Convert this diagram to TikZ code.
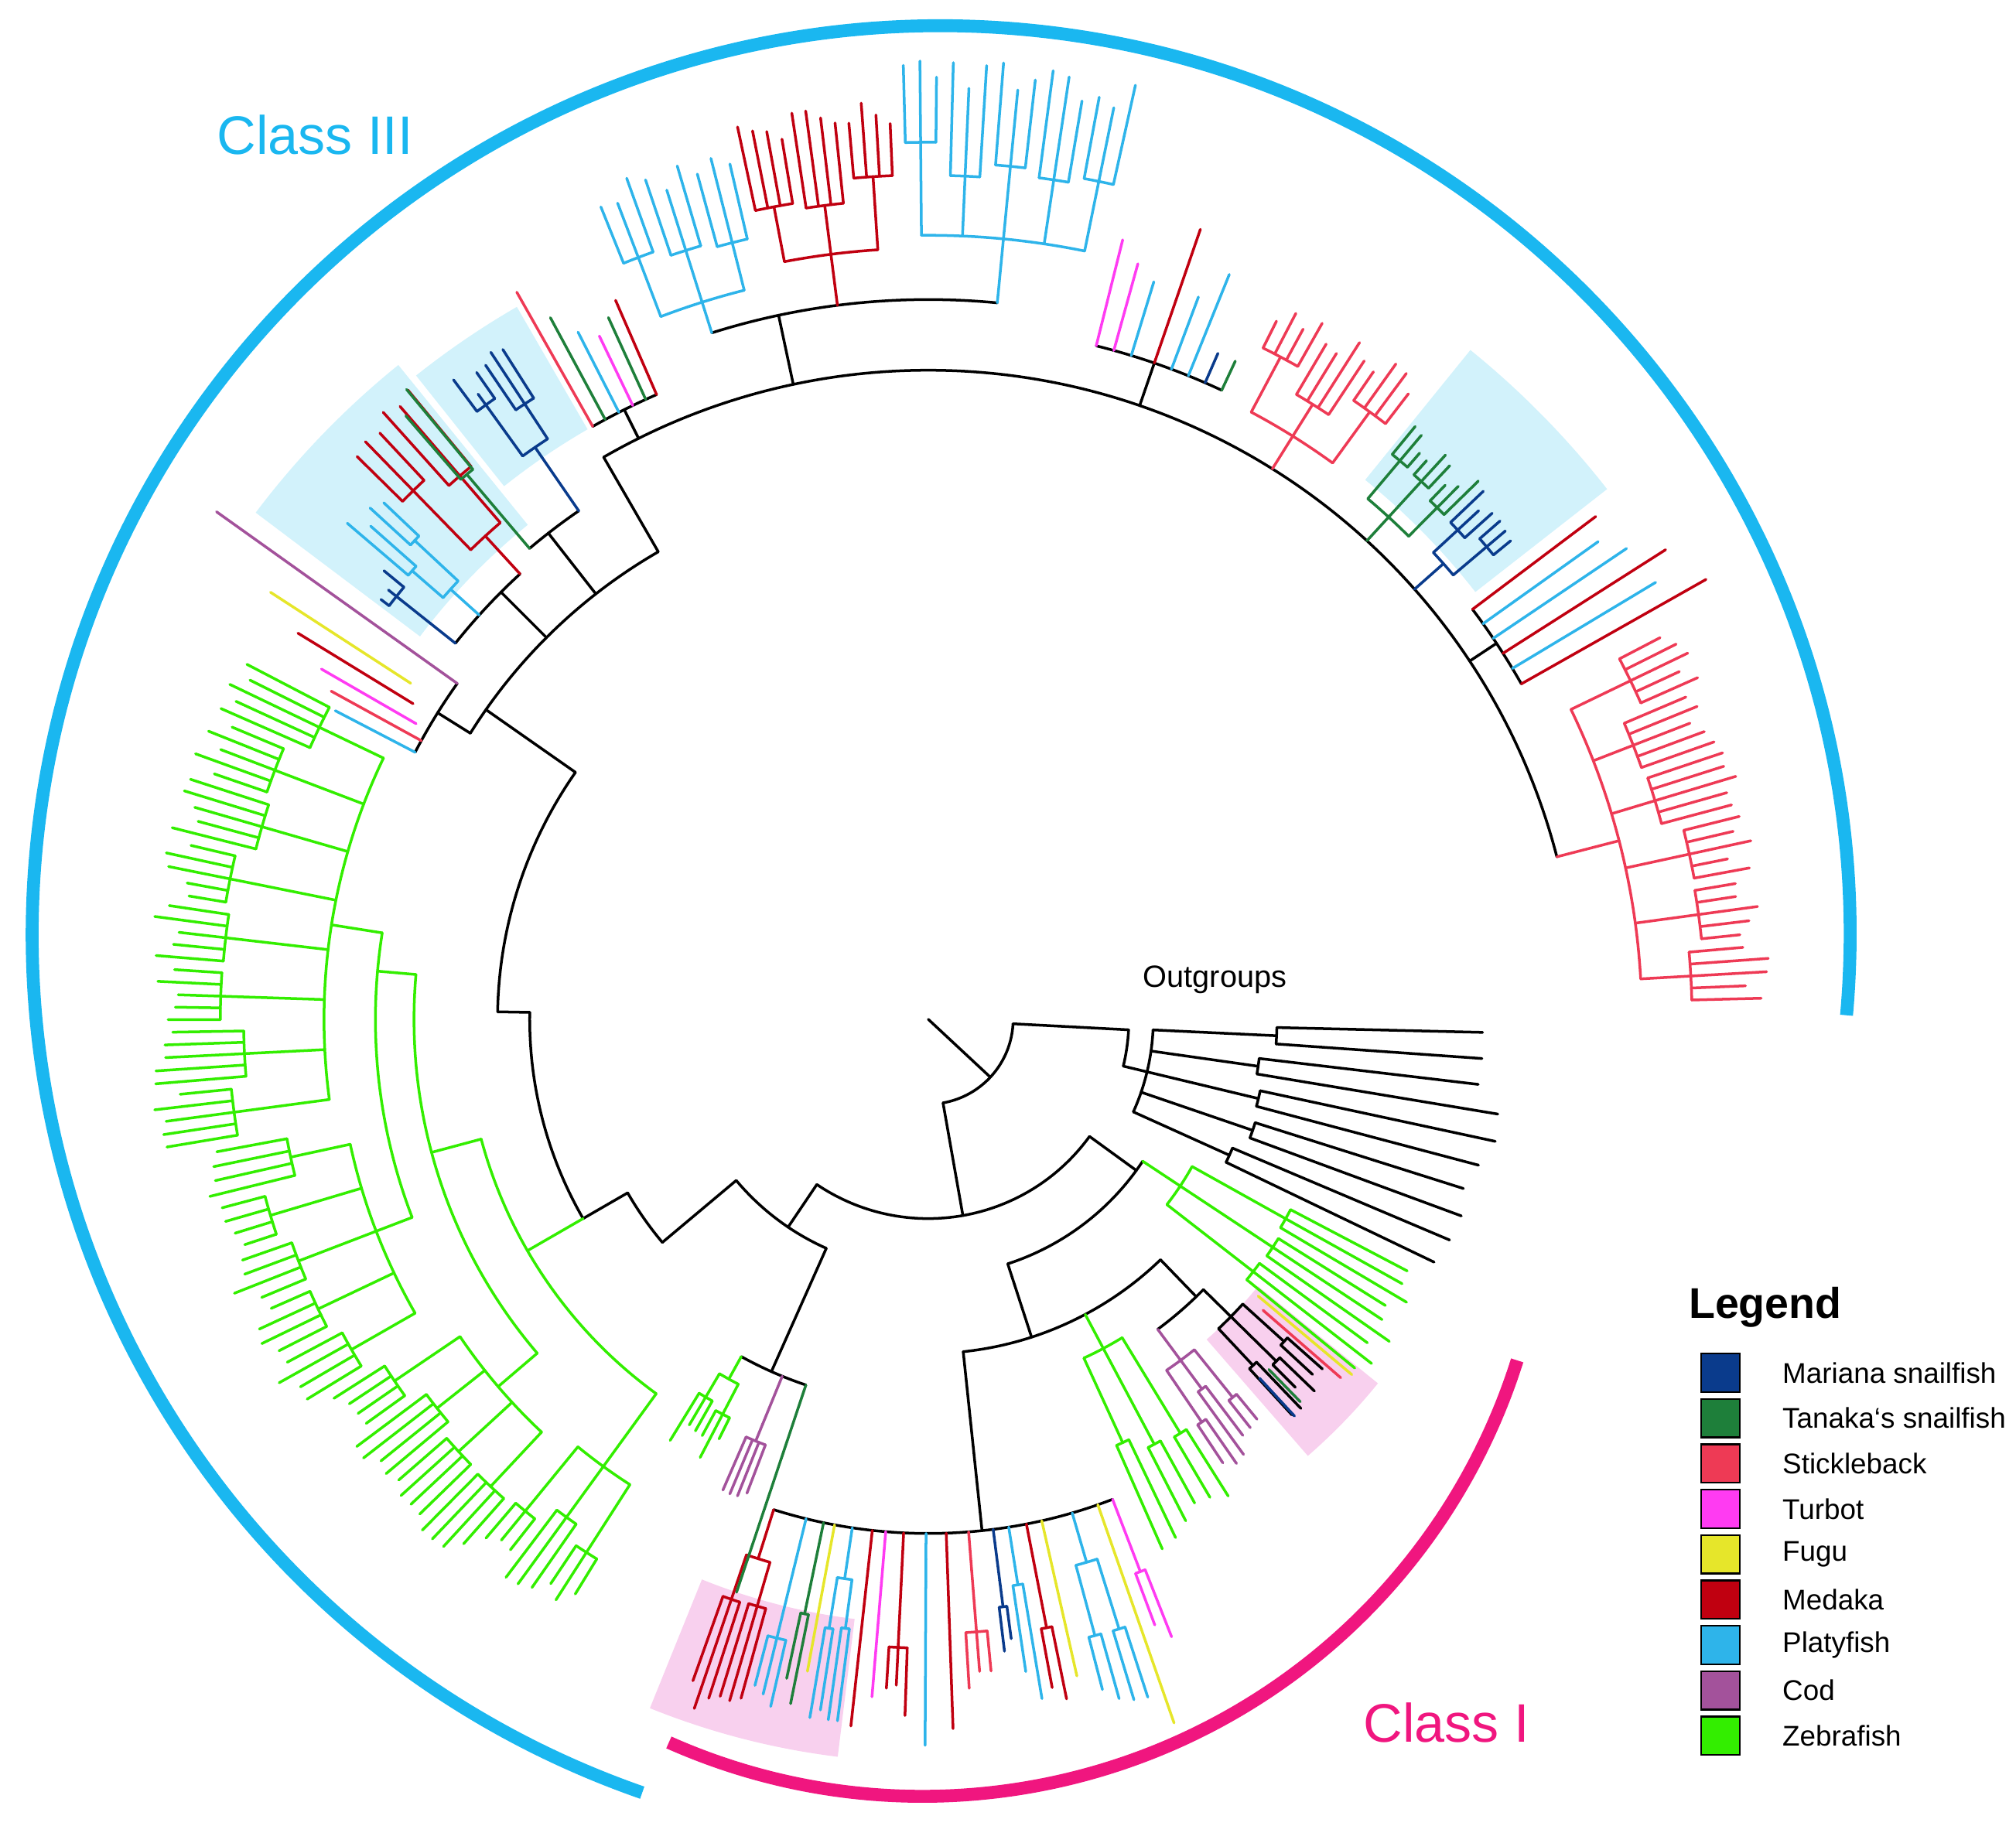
\documentclass[tikz,border=0pt]{standalone}
\usepackage{fontspec}
\setmainfont{Liberation Sans}
\definecolor{navy}{HTML}{0A3B8C}
\definecolor{tanaka}{HTML}{1E7F3A}
\definecolor{stk}{HTML}{EE3A55}
\definecolor{turbot}{HTML}{FF3BF2}
\definecolor{fugu}{HTML}{E6E62A}
\definecolor{medaka}{HTML}{C00010}
\definecolor{platy}{HTML}{2EB4EA}
\definecolor{cod}{HTML}{A3529B}
\definecolor{zebra}{HTML}{33EE00}
\definecolor{cIII}{HTML}{1AB7F0}
\definecolor{cI}{HTML}{F0167F}
\definecolor{shc}{HTML}{D2F2FB}
\definecolor{shp}{HTML}{F8D0EE}
\tikzset{br/.style={line width=0.6pt,line cap=round,line join=round}}
\newcommand\rad[4][black]{\draw[br,#1] (#2:#3) -- (#2:#4);}
\newcommand\arcc[4][black]{\draw[br,#1] (#3:#2) arc[start angle=#3,end angle=#4,radius=#2];}
\newcommand\tipl[4]{\draw[br,#1] (#2:#3) -- (#2:#4);}
\newcommand\sect[5]{\fill[#1] (#2:#4) arc[start angle=#2,end angle=#3,radius=#4] -- (#3:#5) arc[start angle=#3,end angle=#2,radius=#5] -- cycle;}
\newcommand\grp[9]{%
 \pgfmathsetmacro\gW{(#3-#2)/#7}%
 \pgfmathsetmacro\gF{#2+\gW/2}%
 \pgfmathsetmacro\gL{#3-\gW/2}%
 \pgfmathsetmacro\gM{(#2+#3)/2}%
 \draw[br,#1] (\gM:#4) -- (\gM:#5);%
 \draw[br,#1] (\gF:#5) arc[start angle=\gF,end angle=\gL,radius=#5];%
 \pgfmathtruncatemacro\gK{#7-1}%
 \foreach \gi in {0,...,\gK}{%
  \pgfmathsetmacro\gS{#2+\gi*\gW}%
  \pgfmathsetmacro\gC{\gS+\gW/2}%
  \pgfmathsetmacro\gR{#6+rnd*30-15}%
  \draw[br,#1] (\gC:#5) -- (\gC:\gR);%
  \pgfmathtruncatemacro\gN{max(1,round(\gW/#9))}%
  \ifnum\gN>1
   \pgfmathsetmacro\gT{\gW/\gN}%
   \pgfmathsetmacro\gA{\gS+\gT/2}%
   \pgfmathsetmacro\gB{\gS+\gW-\gT/2}%
   \draw[br,#1] (\gA:\gR) arc[start angle=\gA,end angle=\gB,radius=\gR];%
   \pgfmathtruncatemacro\gNN{\gN-1}%
   \foreach \gj in {0,...,\gNN}{%
    \pgfmathsetmacro\gQ{\gA+\gj*\gT}%
    \pgfmathsetmacro\gE{max(\gR+8,#8+rnd*24-12)}%
    \draw[br,#1] (\gQ:\gR) -- (\gQ:\gE);}%
  \else
   \pgfmathsetmacro\gE{max(\gR+8,#8+rnd*24-12)}%
   \draw[br,#1] (\gC:\gR) -- (\gC:\gE);%
  \fi}}
\begin{document}
\begin{tikzpicture}[x=0.01cm,y=-0.01cm]
\pgfmathsetseed{7}
\useasboundingbox (0,0) rectangle (1568,1420);
\begin{scope}[shift={(722,793)}]
% shades
\sect{shc}{217}{231}{495}{655}
\sect{shc}{231.5}{240}{530}{640}
\sect{shc}{309}{322}{540}{670}
\sect{shp}{39}{49}{330}{450}
\sect{shp}{97}{112}{470}{578}
% root
\rad{43}{0}{66} \arcc{66}{3}{80} \rad{80}{66}{155} \arcc{155}{36}{124}
% outgroups
\rad{3}{66}{156} \arcc{156}{3}{13.5}
\grp{black}{0}{27}{156}{175}{260}{5}{440}{2.2}
% Class I
\rad{36}{155}{200} \arcc{200}{33.5}{72}
\grp{zebra}{27}{40}{200}{235}{330}{3}{430}{1.5}
\rad{72}{200}{260} \arcc{260}{46}{84}
\rad{46}{260}{300} \arcc{300}{44.5}{53.5}
\grp{black}{41}{48}{300}{330}{365}{3}{410}{1.2}
\tipl{fugu}{40}{335}{430} \tipl{stk}{41}{345}{425}
\tipl{tanaka}{45.8}{380}{415} \tipl{navy}{47.3}{380}{420}
\grp{cod}{50}{57}{300}{330}{365}{3}{410}{1.0}
\grp{zebra}{57}{67}{260}{290}{370}{3}{440}{1.4}
\rad{84}{260}{400} \arcc{400}{69}{107.5}
\grp{turbot}{68}{70}{400}{440}{470}{1}{505}{1}
\grp{fugu}{70}{71.5}{400}{420}{440}{1}{570}{2}
\grp{platy}{71.5}{76}{400}{440}{490}{2}{550}{1.1}
\grp{fugu}{76.5}{78}{400}{430}{460}{1}{520}{2}
\grp{medaka}{78}{80}{400}{430}{470}{1}{530}{1}
\grp{platy}{80}{82}{400}{420}{450}{1}{525}{1}
\grp{navy}{82}{83.5}{400}{440}{470}{1}{490}{1}
\grp{stk}{84}{87}{400}{430}{470}{1}{520}{1}
\grp{medaka}{87}{89}{400}{430}{460}{1}{545}{2}
\grp{platy}{89}{91.5}{400}{420}{450}{1}{555}{2.5}
\grp{medaka}{91.5}{94}{400}{440}{480}{1}{530}{0.9}
\grp{turbot}{94}{95.5}{400}{440}{470}{1}{535}{2}
\grp{medaka}{95.5}{97}{400}{430}{460}{1}{550}{2}
\grp{platy}{97}{100}{400}{440}{490}{2}{545}{1}
\grp{fugu}{100}{101}{400}{460}{480}{1}{525}{2}
\grp{tanaka}{101}{102.5}{400}{450}{480}{1}{535}{1}
\grp{platy}{102.5}{105}{400}{440}{490}{1}{545}{1}
\grp{medaka}{105}{110}{400}{440}{490}{2}{555}{1}
% small green/cod clade
\rad{124}{155}{195} \arcc{195}{114}{140}
\rad{114}{195}{300} \arcc{300}{108.5}{119}
\grp{zebra}{116}{122}{300}{320}{345}{2}{375}{1.2}
\grp{cod}{110.5}{114}{300}{340}{360}{1}{400}{1}
\tipl{tanaka}{108.5}{300}{470}
% left backbone
\rad{140}{195}{270} \arcc{270}{140}{150} \rad{150}{270}{310}
\arcc{310}{150}{181} \rad{181}{310}{335} \arcc{335}{181}{215}
% zebrafish
\rad[zebra]{150}{310}{360} \arcc[zebra]{360}{126}{165}
\grp{zebra}{121}{131}{360}{430}{490}{3}{535}{1.2}
\rad[zebra]{165}{360}{400} \arcc[zebra]{400}{139.5}{185}
\grp{zebra}{131}{148}{400}{440}{500}{4}{550}{1.1}
\rad[zebra]{185}{400}{430} \arcc[zebra]{430}{159}{189}
\grp{zebra}{148}{170}{430}{460}{520}{5}{570}{1.0}
\grp{zebra}{170}{208}{430}{470}{540}{8}{595}{1.0}
% Class III
\rad{215}{335}{420} \arcc{420}{212}{240}
\rad{212}{420}{450} \arcc{450}{207.5}{215.5}
\tipl{platy}{207.5}{450}{520} \tipl{stk}{208.8}{450}{530}
\tipl{turbot}{210}{460}{545} \tipl{medaka}{211.5}{470}{575}
\tipl{fugu}{213}{480}{610} \tipl{cod}{215.5}{450}{680}
\rad{225}{420}{470} \arcc{470}{218.5}{227.5}
\grp{navy}{217}{220}{470}{495}{515}{1}{545}{1}
\grp{platy}{220}{224}{470}{500}{540}{2}{585}{1}
\grp{medaka}{224}{231}{470}{510}{570}{2}{630}{1.2}
\rad{232}{420}{480} \arcc{480}{229.75}{235.5}
\grp{tanaka}{228.5}{231}{480}{510}{560}{1}{630}{1.2}
\grp{navy}{233}{238}{480}{540}{575}{2}{610}{1}
\rad{240}{420}{505} \arcc{505}{240}{345.5}
\rad{243.5}{505}{530} \arcc{530}{240.5}{246.5}
\tipl{stk}{240.5}{530}{650} \tipl{tanaka}{241.7}{530}{620}
\tipl{platy}{243}{530}{600} \tipl{turbot}{244.3}{530}{590}
\tipl{tanaka}{245.5}{530}{600} \tipl{medaka}{246.5}{530}{610}
\rad{258}{505}{560} \arcc{560}{252.5}{275.5}
\grp{platy}{247.5}{257.5}{560}{585}{630}{3}{685}{1}
\grp{medaka}{257.5}{268}{560}{600}{650}{3}{705}{0.9}
\grp{platy}{268}{283}{560}{610}{670}{5}{735}{0.9}
\rad{289}{505}{540} \arcc{540}{284}{295}
\tipl{turbot}{284}{540}{625} \tipl{turbot}{285.5}{540}{610}
\tipl{platy}{287}{540}{600} \tipl{medaka}{289}{540}{650}
\tipl{platy}{290.5}{540}{600} \tipl{platy}{292}{540}{625}
\tipl{navy}{293.5}{540}{565} \tipl{tanaka}{295}{540}{565}
\grp{stk}{296}{308}{505}{535}{575}{3}{615}{0.9}
\grp{tanaka}{309}{316}{505}{530}{560}{3}{590}{0.9}
\grp{navy}{316}{321}{505}{535}{560}{2}{585}{0.9}
\rad{326.5}{505}{530} \arcc{530}{323}{330.5}
\tipl{medaka}{323}{530}{650} \tipl{platy}{324.5}{530}{640}
\tipl{platy}{326}{530}{655} \tipl{medaka}{327.5}{530}{680}
\tipl{platy}{329}{530}{660} \tipl{medaka}{330.5}{530}{695}
\grp{stk}{332}{359}{505}{555}{600}{6}{645}{0.9}
\end{scope}
% class arcs
\begin{scope}[shift={(732,727)}]
\draw[line width=2.85pt,cIII] (5.1:707) arc[start angle=5.1,end angle=-250.8,radius=707];
\end{scope}
\begin{scope}[shift={(717.5,912.5)}]
\draw[line width=2.85pt,cI] (114:485) arc[start angle=114,end angle=17.5,radius=485];
\end{scope}
\node[text=cIII,font=\fontsize{12}{14}\selectfont] (c3) at (245,105) {Class III};
\node[text=cI,font=\fontsize{12}{14}\selectfont] (c1) at (1125,1340) {Class I};
\node[font=\fontsize{6.8}{8}\selectfont] (og) at (945,762) {Outgroups};
% legend
\node[font=\bfseries\fontsize{9.5}{11}\selectfont] (lg) at (1373,1017) {Legend};
\foreach \c/\t [count=\i from 0] in {navy/Mariana snailfish,tanaka/Tanaka‘s snailfish,stk/Stickleback,turbot/Turbot,fugu/Fugu,medaka/Medaka,platy/Platyfish,cod/Cod,zebra/Zebrafish}{
 \pgfmathsetmacro\yy{1068+\i*35.3}
 \draw[fill=\c,line width=0.4pt] (1323,\yy-15) rectangle (1353,\yy+15);
 \node[anchor=west,font=\fontsize{6.3}{7.5}\selectfont] (l\i) at (1374,\yy) {\t};
}
\end{tikzpicture}
\end{document}
